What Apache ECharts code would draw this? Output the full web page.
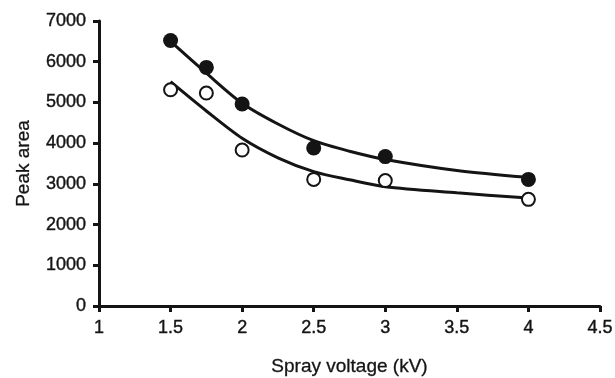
<!DOCTYPE html>
<html>
<head>
<meta charset="utf-8">
<script src="https://cdn.jsdelivr.net/npm/echarts@6/dist/echarts.min.js"></script>
<style>
  html, body { margin: 0; padding: 0; background: #fff; }
  #chart { width: 615px; height: 378px; }
</style>
</head>
<body>
<div id="chart"></div>
<script>
// measured points
const voltages = [1.5, 1.75, 2, 2.5, 3, 4]
const filledArea = [6520, 5860, 4960, 3880, 3670, 3110]
const openArea = [5310, 5230, 3830, 3110, 3080, 2620]

// fitted curves
const fitX = [1.5, 1.75, 2, 2.25, 2.5, 2.75, 3, 3.5, 4]
const filledFit = [6500, 5720, 4980, 4470, 4060, 3800, 3600, 3330, 3160]
const openFit = [5510, 4790, 4120, 3640, 3300, 3100, 2930, 2780, 2650]

const pairs = (xs, ys) => xs.map((x, i) => [x, ys[i]])

const ink = '#141414'
const font = 'Liberation Sans, Arial, sans-serif'
const axisLine = { show: true, lineStyle: { color: ink, width: 3 } }
const axisTick = { show: true, inside: false, length: 6, lineStyle: { color: ink, width: 3 } }
const labelStyle = {
  color: ink, fontSize: 18, fontFamily: font, margin: 13,
  textBorderColor: ink, textBorderWidth: 0.4,
  formatter: (v) => String(v),
}
const nameStyle = { color: ink, fontSize: 19, fontFamily: font, textBorderColor: ink, textBorderWidth: 0.3 }

const chart = echarts.init(document.getElementById('chart'))
chart.setOption({
  animation: false,
  grid: { left: 99, right: 15, top: 21, bottom: 72, outerBoundsMode: 'none' },
  xAxis: {
    type: 'value',
    min: 1,
    max: 4.5,
    interval: 0.5,
    name: 'Spray voltage (kV)',
    nameLocation: 'middle',
    nameGap: 51,
    nameTextStyle: nameStyle,
    axisLine: axisLine,
    axisTick: axisTick,
    splitLine: { show: false },
    axisLabel: labelStyle,
  },
  yAxis: {
    type: 'value',
    min: 0,
    max: 7000,
    interval: 1000,
    name: 'Peak area',
    nameLocation: 'middle',
    nameGap: 66,
    nameTextStyle: nameStyle,
    axisLine: axisLine,
    axisTick: axisTick,
    splitLine: { show: false },
    axisLabel: labelStyle,
  },
  series: [
    {
      type: 'line',
      data: pairs(fitX, filledFit),
      smooth: 0.3,
      showSymbol: false,
      lineStyle: { color: ink, width: 3 },
      z: 2,
    },
    {
      type: 'line',
      data: pairs(fitX, openFit),
      smooth: 0.3,
      showSymbol: false,
      lineStyle: { color: ink, width: 3 },
      z: 2,
    },
    {
      type: 'scatter',
      data: pairs(voltages, filledArea),
      symbol: 'circle',
      symbolSize: 15,
      itemStyle: { color: ink, opacity: 1 },
      z: 3,
    },
    {
      type: 'scatter',
      data: pairs(voltages, openArea),
      symbol: 'circle',
      symbolSize: 13,
      itemStyle: { color: '#fff', borderColor: ink, borderWidth: 2, opacity: 1 },
      z: 3,
    },
  ],
})
</script>
</body>
</html>
